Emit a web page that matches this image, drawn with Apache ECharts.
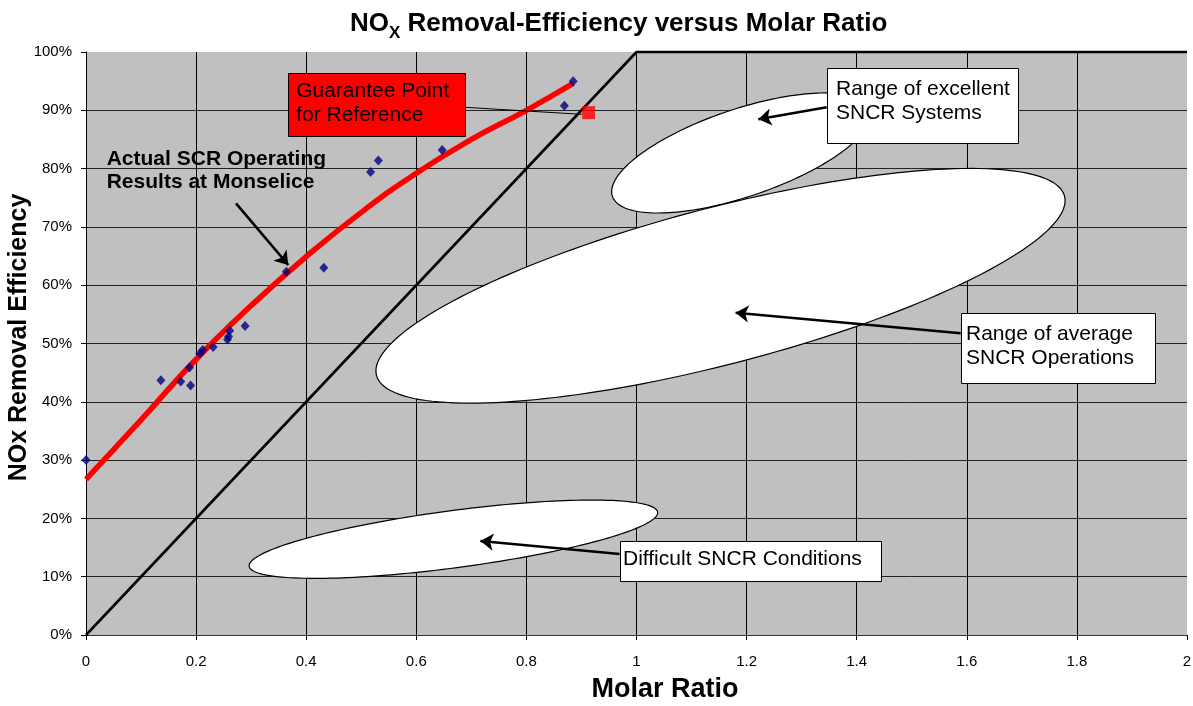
<!DOCTYPE html>
<html>
<head>
<meta charset="utf-8">
<script src="https://cdn.jsdelivr.net/npm/echarts@6/dist/echarts.min.js"></script>
<style>
html,body{margin:0;padding:0;background:#fff;}
#chart{width:1193px;height:706px;}
</style>
</head>
<body>
<div id="chart"></div>
<script>
// ---------------- data ----------------
const molarRatio    = [0.000, 0.136, 0.172, 0.190, 0.188, 0.207, 0.212, 0.231, 0.257, 0.259, 0.261, 0.289, 0.364, 0.432, 0.517, 0.531, 0.647, 0.869, 0.885];
const noxEfficiency = [30.0, 43.7, 43.5, 42.8, 45.9, 48.3, 48.9, 49.4, 50.7, 51.2, 52.2, 53.0, 62.3, 63.0, 79.4, 81.4, 83.2, 90.8, 95.0];

const trendRatio      = [0, 0.1, 0.2, 0.3, 0.4, 0.5, 0.6, 0.7, 0.8, 0.885];
const trendEfficiency = [26.7, 36.9, 47.3, 56.5, 64.9, 72.5, 79.2, 85.0, 90.0, 94.6];

const idealRatio      = [0, 1, 2];
const idealEfficiency = [0, 100, 100];

const guaranteeRatio      = [0.913];
const guaranteeEfficiency = [89.6];

const xRange = [0, 2, 0.2];     // min, max, interval
const yRange = [0, 100, 10];    // percent

// ---------------- annotations (data-anchored) ----------------
const FONT = '"Liberation Sans", Arial, Helvetica, sans-serif';

const regionEllipses = [
  { center: [1.1526, 59.9],  rx: 355.5, ry: 78.3, angle: 14.6 },   // average SNCR
  { center: [1.1904, 82.68], rx: 136,   ry: 43.8, angle: 18.6 },   // excellent SNCR
  { center: [0.6674, 16.43], rx: 206,   ry: 28.6, angle: 7.54 }    // difficult SNCR
];

const callouts = [
  { lines: ['Guarantee Point', 'for Reference'], from: [0.3665, 96.35], to: [0.6887, 85.59], fill: '#FF0000', padX: 8.4, firstLine: 18.2 },
  { lines: ['Range of excellent', 'SNCR Systems'], from: [1.3455, 97.2], to: [1.6925, 84.34], fill: '#FFFFFF', padX: 9.3, firstLine: 21 },
  { lines: ['Range of average', 'SNCR Operations'], from: [1.5889, 55.28], to: [1.9419, 43.17], fill: '#FFFFFF', padX: 5.3, firstLine: 21 },
  { lines: ['Difficult SNCR Conditions'], from: [0.9693, 16.12], to: [1.4438, 9.26], fill: '#FFFFFF', padX: 3.4, firstLine: 18 }
];

const boldNote = { lines: ['Actual SCR Operating', 'Results at Monselice'], at: [0.0376, 81.65] };

const arrowLines = [
  [[0.2725, 74.05], [0.3675, 63.46]],
  [[1.3455, 90.51], [1.2213, 88.46]],
  [[1.5889, 51.75], [1.1800, 55.28]],
  [[0.9693, 13.89], [0.7164, 16.12]]
];
const leaderLines = [
  [[0.6887, 90.51], [0.9005, 89.31]]
];

// ---------------- chart ----------------
const zip = (a, b) => a.map((v, i) => [v, b[i]]);

const chart = echarts.init(document.getElementById('chart'), null, { renderer: 'canvas' });

const option = {
  animation: false,
  backgroundColor: '#FFFFFF',
  title: {
    text: 'NO{sub|X} Removal-Efficiency versus Molar Ratio',
    left: 345,
    top: 4,
    textStyle: {
      fontFamily: FONT, fontSize: 26, fontWeight: 'bold', color: '#000', lineHeight: 30,
      rich: {
        sub: { fontFamily: FONT, fontSize: 17, fontWeight: 'bold', color: '#000', lineHeight: 17, verticalAlign: 'bottom', padding: [0, 0, -3, 0] }
      }
    }
  },
  grid: {
    left: 86, right: 6, top: 52, bottom: 71,
    outerBoundsMode: 'none', containLabel: false,
    show: true, backgroundColor: '#C0C0C0', borderWidth: 0
  },
  xAxis: {
    type: 'value', min: xRange[0], max: xRange[1], interval: xRange[2],
    name: 'Molar Ratio', nameLocation: 'middle', nameGap: 41, nameMoveOverlap: false,
    nameTextStyle: { fontFamily: FONT, fontSize: 27, fontWeight: 'bold', color: '#000', padding: [0, 0, 0, 57] },
    axisLine: { show: true, onZero: false, lineStyle: { color: '#333', width: 1 } },
    axisTick: { show: true, inside: false, length: 5, lineStyle: { color: '#000' } },
    axisLabel: { fontFamily: FONT, fontSize: 15, color: '#000', margin: 19 },
    splitLine: { show: true, showMinLine: false, showMaxLine: false, lineStyle: { color: '#000', width: 1 } }
  },
  yAxis: {
    type: 'value', min: yRange[0], max: yRange[1], interval: yRange[2],
    name: 'NOx Removal Efficiency', nameLocation: 'middle', nameGap: 54, nameMoveOverlap: false,
    nameTextStyle: { fontFamily: FONT, fontSize: 25, fontWeight: 'bold', color: '#000', padding: [0, 0, 0, 12] },
    axisLine: { show: true, onZero: false, lineStyle: { color: '#000', width: 1 } },
    axisTick: { show: true, inside: false, length: 5, lineStyle: { color: '#000' } },
    axisLabel: { fontFamily: FONT, fontSize: 15, color: '#000', margin: 14, formatter: '{value}%' },
    splitLine: { show: true, showMinLine: false, showMaxLine: false, lineStyle: { color: '#222', width: 1 } }
  },
  series: [
    {
      type: 'custom', name: 'regions', z: 1, clip: false, silent: true,
      data: regionEllipses.map(e => [e.center[0], e.center[1], e.rx, e.ry, e.angle]),
      encode: { x: 0, y: 1 },
      renderItem: function (params, api) {
        const c = api.coord([api.value(0), api.value(1)]);
        const a = api.value(2), b = api.value(3), th = api.value(4) * Math.PI / 180;
        const ct = Math.cos(th), st = Math.sin(th);
        const pts = [];
        for (let i = 0; i < 180; i++) {
          const t = i / 180 * Math.PI * 2;
          const u = a * Math.cos(t), v = b * Math.sin(t);
          pts.push([c[0] + u * ct + v * st, c[1] - u * st + v * ct]);
        }
        return { type: 'polygon', shape: { points: pts }, style: { fill: '#FFFFFF', stroke: '#000', lineWidth: 1.2 } };
      }
    },
    {
      type: 'line', name: 'ideal', z: 3, data: zip(idealRatio, idealEfficiency),
      showSymbol: false, symbol: 'none', clip: false,
      lineStyle: { color: '#000', width: 2.6 }
    },
    {
      type: 'line', name: 'trend', z: 4, data: zip(trendRatio, trendEfficiency),
      smooth: true, showSymbol: false, symbol: 'none',
      lineStyle: { color: '#FF0000', width: 5.5 }
    },
    {
      type: 'scatter', name: 'Monselice', z: 5, clip: false,
      data: zip(molarRatio, noxEfficiency),
      symbol: 'diamond', symbolSize: [9, 10],
      itemStyle: { color: '#000080' }
    },
    {
      type: 'lines', name: 'leader', coordinateSystem: 'cartesian2d', z: 6, silent: true,
      data: leaderLines.map(c => ({ coords: c })),
      lineStyle: { color: '#000', width: 1, opacity: 1, curveness: 0 }
    },
    {
      type: 'scatter', name: 'guarantee', z: 7, clip: false,
      data: zip(guaranteeRatio, guaranteeEfficiency),
      symbol: 'rect', symbolSize: 13,
      itemStyle: { color: '#FF0000' }
    },
    {
      type: 'lines', name: 'arrows', coordinateSystem: 'cartesian2d', z: 8, silent: true,
      data: arrowLines.map(c => ({ coords: c })),
      symbol: ['none', 'arrow'], symbolSize: 13,
      lineStyle: { color: '#000', width: 2.6, opacity: 1, curveness: 0 }
    }
  ]
};

chart.setOption(option);

// callout boxes and text, anchored in data space
const px = p => chart.convertToPixel({ gridIndex: 0 }, p);
const LH = 24;
const graphics = [];
callouts.forEach(c => {
  const a = px(c.from), b = px(c.to);
  const x0 = Math.round(a[0]) + 0.5, y0 = Math.round(a[1]) + 0.5;
  const x1 = Math.round(b[0]) + 0.5, y1 = Math.round(b[1]) + 0.5;
  graphics.push({
    type: 'rect', z: 100, silent: true,
    shape: { x: x0, y: y0, width: x1 - x0, height: y1 - y0 },
    style: { fill: c.fill, stroke: '#000', lineWidth: 1 }
  });
  c.lines.forEach((t, i) => {
    graphics.push({
      type: 'text', z: 101, silent: true,
      x: a[0] + c.padX, y: a[1] + c.firstLine + i * LH,
      style: { text: t, font: '21px ' + FONT, fill: '#000', align: 'left', verticalAlign: 'middle' }
    });
  });
});
const nb = px(boldNote.at);
boldNote.lines.forEach((t, i) => {
  graphics.push({
    type: 'text', z: 101, silent: true,
    x: nb[0], y: nb[1] + i * 23.5,
    style: { text: t, font: 'bold 21px ' + FONT, fill: '#000', align: 'left', verticalAlign: 'middle' }
  });
});
chart.setOption({ graphic: graphics });
</script>
</body>
</html>
